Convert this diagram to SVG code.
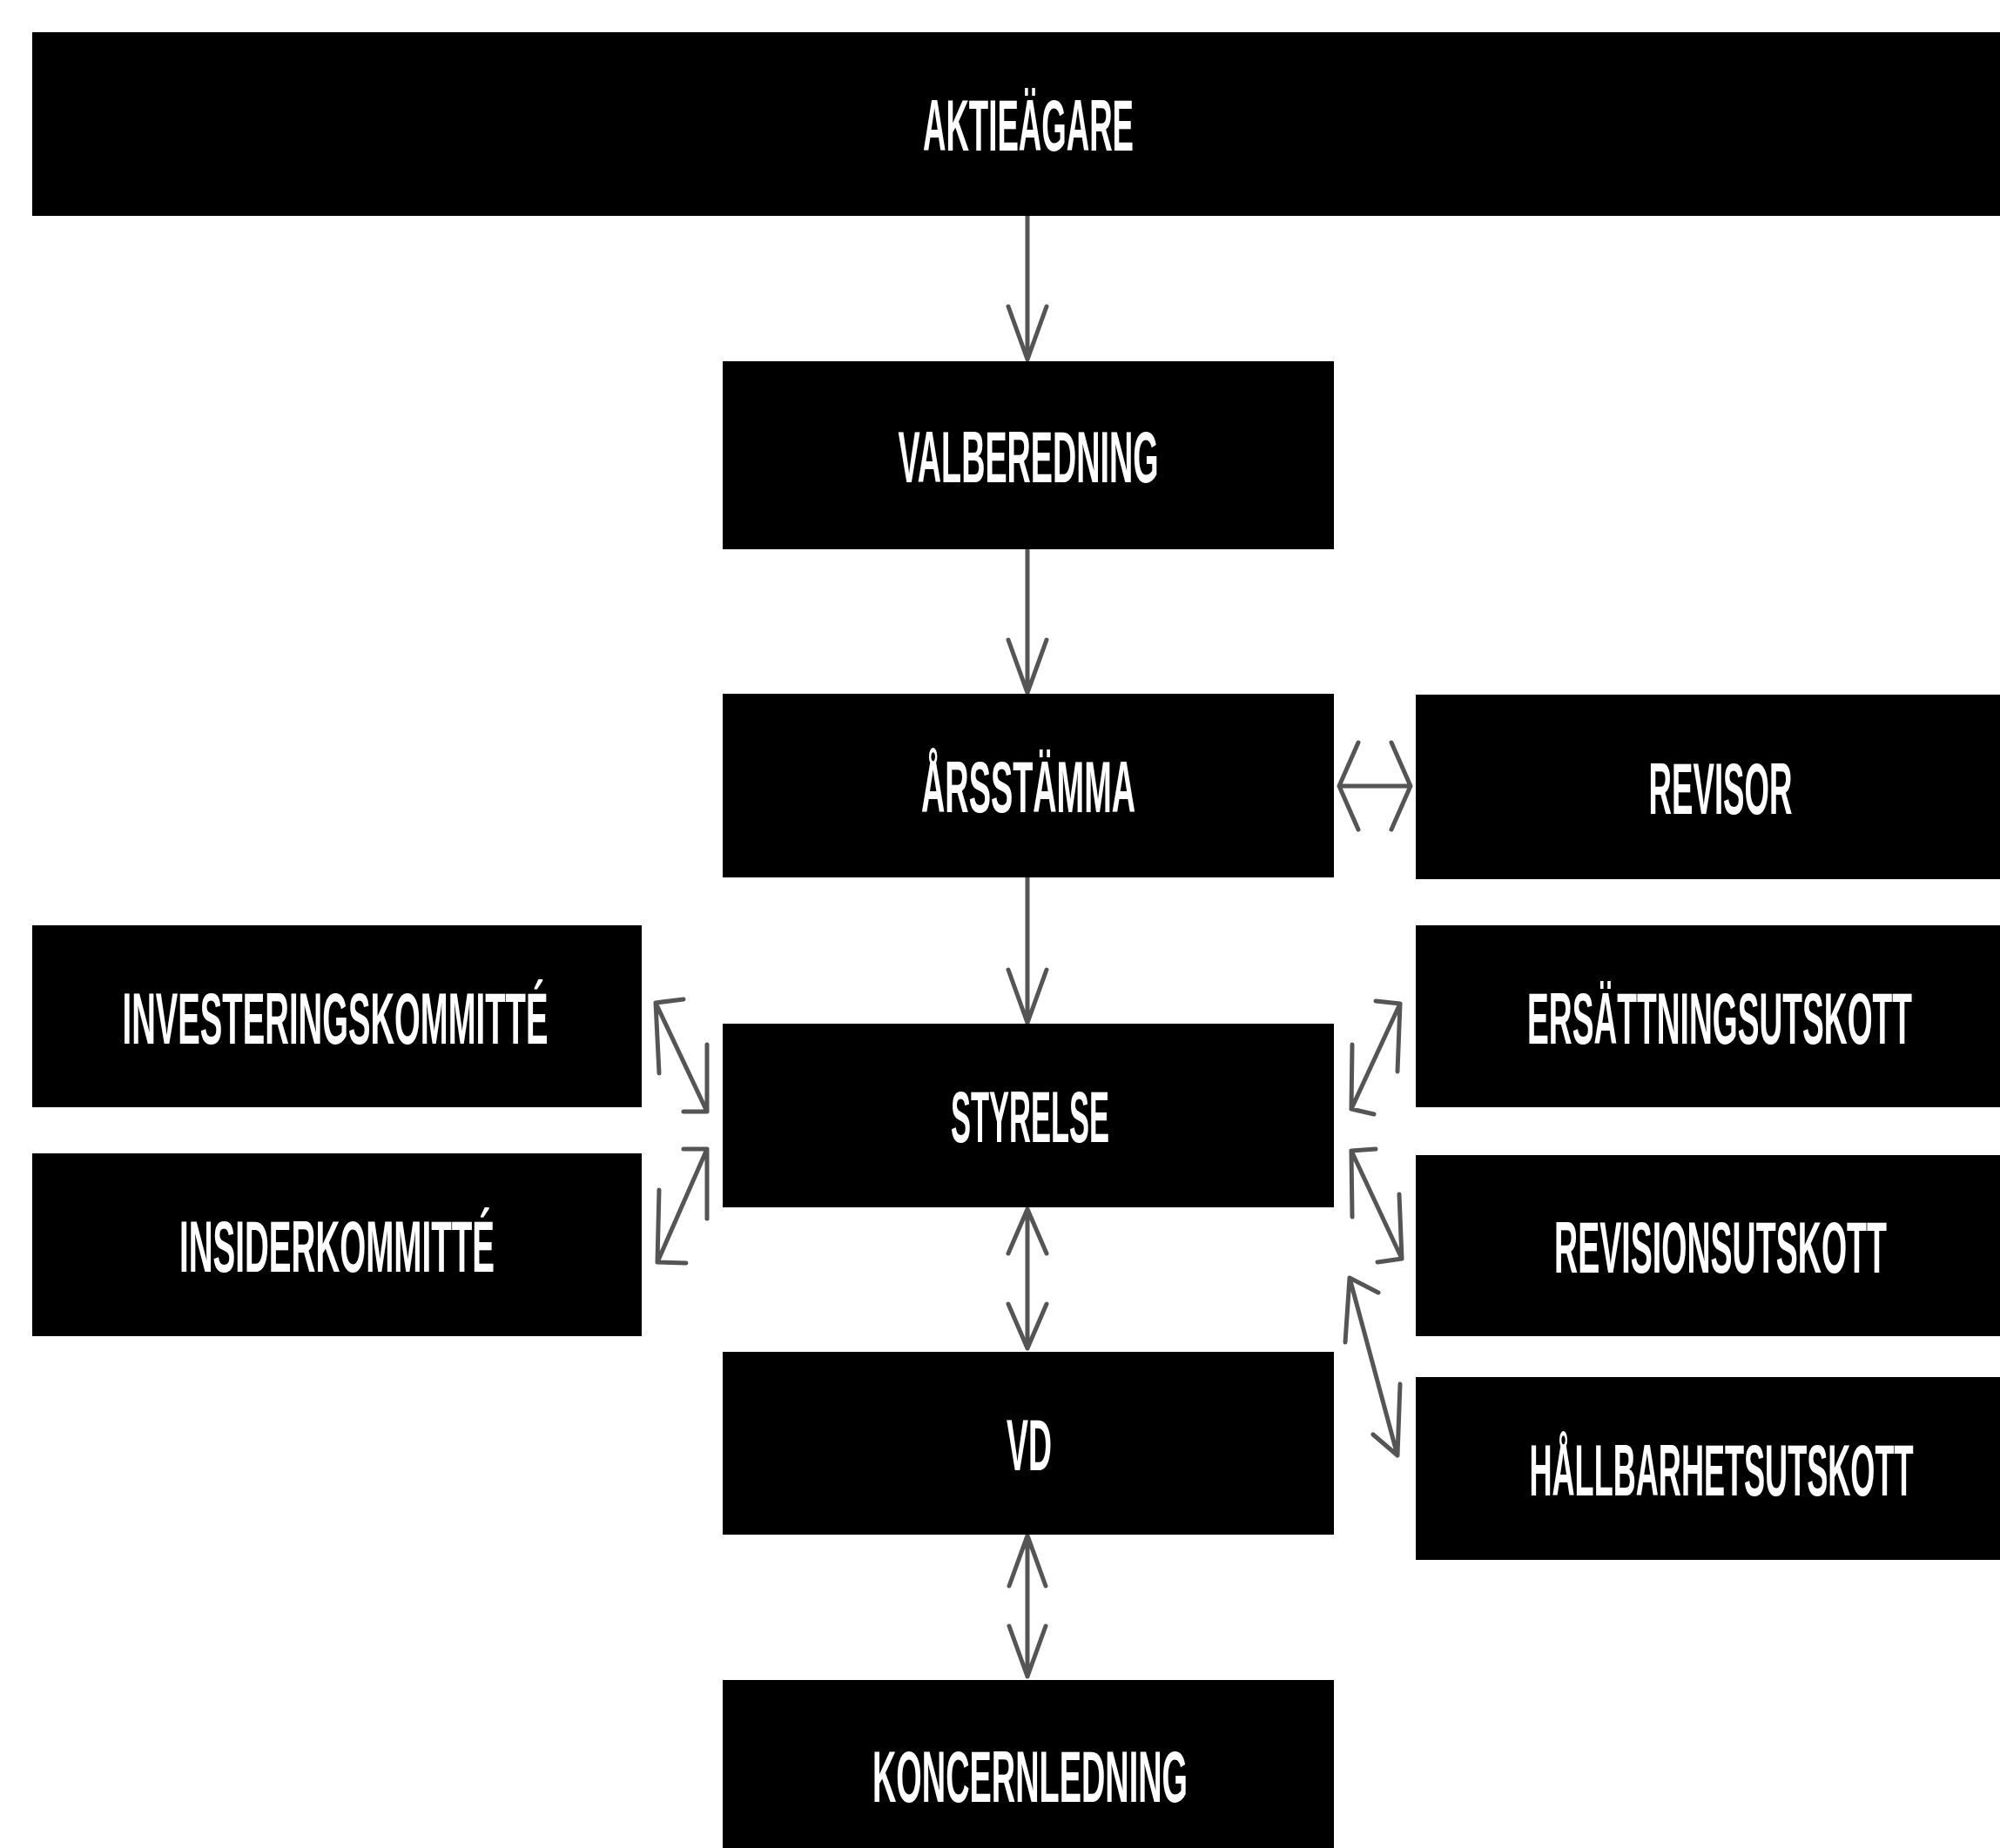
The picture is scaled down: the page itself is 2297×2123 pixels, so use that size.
<svg xmlns="http://www.w3.org/2000/svg" width="2297" height="2123" viewBox="0 0 2297 2123">
<style>
.box{fill:#000;}
.lbl{fill:#fff;font-family:"Liberation Sans",Arial,sans-serif;font-weight:bold;font-size:84px;text-anchor:middle;}
.conn{fill:none;stroke:#555;stroke-width:5;stroke-linecap:round;stroke-linejoin:round;}
</style>
<rect width="2297" height="2123" fill="#fff"/>
<g id="connectors">
  <path class="conn" d="M1180 248 V412 M1158 352 L1180 413 L1202 352"/>
  <path class="conn" d="M1180 631 V795 M1158 735 L1180 796 L1202 735"/>
  <path class="conn" d="M1180 1008 V1174 M1158 1114 L1180 1175 L1202 1114"/>
  <path class="conn" d="M1180 1389 V1549 M1158 1440 L1180 1389 L1202 1440 M1158 1498 L1180 1549 L1202 1498"/>
  <path class="conn" d="M1180 1764 V1926 M1159 1822 L1180 1764 L1201 1822 M1159 1868 L1180 1926 L1201 1868"/>
  <path class="conn" d="M1538 903 H1620 M1560 853 L1538 903 L1560 953 M1598 853 L1620 903 L1598 953"/>
  <path class="conn" d="M753 1152 L812 1277 M785 1148 L753 1152 L757 1233 M785 1277 L812 1277 L812 1200"/>
  <path class="conn" d="M812 1320 L755 1450 M785 1320 L812 1320 L812 1400 M788 1451 L755 1450 L757 1367"/>
  <path class="conn" d="M1608 1153 L1552 1274 M1580 1150 L1608 1153 L1605 1231 M1578 1280 L1552 1274 L1553 1200"/>
  <path class="conn" d="M1552 1322 L1610 1446 M1580 1320 L1552 1322 L1553 1398 M1582 1450 L1610 1446 L1607 1372"/>
  <path class="conn" d="M1550 1468 L1605 1672 M1583 1485 L1550 1468 L1545 1542 M1577 1648 L1605 1672 L1608 1590"/>
</g>
<g id="aktieagare">
  <rect class="box" x="37" y="37" width="2260" height="211"/>
  <text class="lbl" transform="translate(1181 173) scale(0.5 1)" textLength="484" lengthAdjust="spacingAndGlyphs">AKTIEÄGARE</text>
</g>
<g id="valberedning">
  <rect class="box" x="830" y="415" width="702" height="216"/>
  <text class="lbl" transform="translate(1181 554) scale(0.5 1)" textLength="598" lengthAdjust="spacingAndGlyphs">VALBEREDNING</text>
</g>
<g id="arsstamma">
  <rect class="box" x="830" y="797" width="702" height="211"/>
  <text class="lbl" transform="translate(1181 933) scale(0.5 1)" textLength="492" lengthAdjust="spacingAndGlyphs">ÅRSSTÄMMA</text>
</g>
<g id="revisor">
  <rect class="box" x="1626" y="798" width="671" height="212"/>
  <text class="lbl" transform="translate(1976 935) scale(0.5 1)" textLength="330" lengthAdjust="spacingAndGlyphs">REVISOR</text>
</g>
<g id="investeringskommitte">
  <rect class="box" x="37" y="1063" width="700" height="209"/>
  <text class="lbl" transform="translate(385 1199) scale(0.5 1)" textLength="978" lengthAdjust="spacingAndGlyphs">INVESTERINGSKOMMITTÉ</text>
</g>
<g id="ersattningsutskott">
  <rect class="box" x="1626" y="1063" width="671" height="209"/>
  <text class="lbl" transform="translate(1975 1199) scale(0.5 1)" textLength="884" lengthAdjust="spacingAndGlyphs">ERSÄTTNINGSUTSKOTT</text>
</g>
<g id="styrelse">
  <rect class="box" x="830" y="1176" width="702" height="211"/>
  <text class="lbl" transform="translate(1183 1312) scale(0.5 1)" textLength="364" lengthAdjust="spacingAndGlyphs">STYRELSE</text>
</g>
<g id="insiderkommitte">
  <rect class="box" x="37" y="1325" width="700" height="210"/>
  <text class="lbl" transform="translate(387 1461) scale(0.5 1)" textLength="724" lengthAdjust="spacingAndGlyphs">INSIDERKOMMITTÉ</text>
</g>
<g id="revisionsutskott">
  <rect class="box" x="1626" y="1327" width="671" height="208"/>
  <text class="lbl" transform="translate(1976 1462) scale(0.5 1)" textLength="764" lengthAdjust="spacingAndGlyphs">REVISIONSUTSKOTT</text>
</g>
<g id="vd">
  <rect class="box" x="830" y="1553" width="702" height="210"/>
  <text class="lbl" transform="translate(1182 1689) scale(0.5 1)" textLength="104" lengthAdjust="spacingAndGlyphs">VD</text>
</g>
<g id="hallbarhetsutskott">
  <rect class="box" x="1626" y="1582" width="671" height="210"/>
  <text class="lbl" transform="translate(1977 1718) scale(0.5 1)" textLength="882" lengthAdjust="spacingAndGlyphs">HÅLLBARHETSUTSKOTT</text>
</g>
<g id="koncernledning">
  <rect class="box" x="830" y="1930" width="702" height="193"/>
  <text class="lbl" transform="translate(1183 2070) scale(0.5 1)" textLength="724" lengthAdjust="spacingAndGlyphs">KONCERNLEDNING</text>
</g>
</svg>
